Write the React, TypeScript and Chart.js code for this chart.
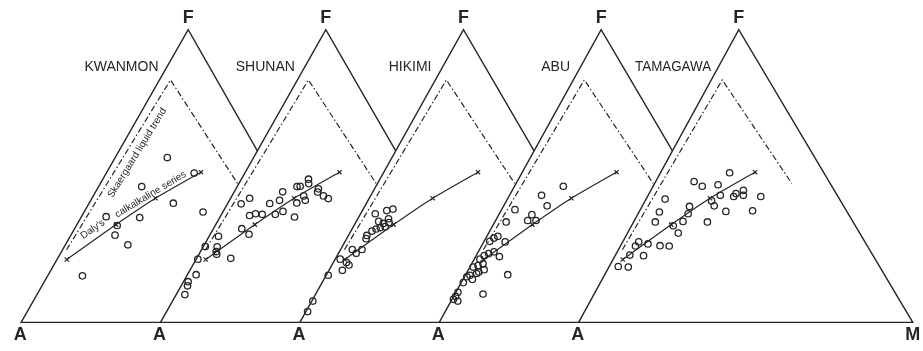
import { useEffect, useRef } from "react";
import { Chart, registerables } from "chart.js";

Chart.register(...registerables);

// AFM diagrams: F = FeO+Fe2O3, M = MgO, A = Na2O+K2O (A = 100 - F - M)
const localities = ["KWANMON", "SHUNAN", "HIKIMI", "ABU", "TAMAGAWA"];

const kwanmonF = [56.3, 46.4, 40.7, 37.7, 35.8, 36.1, 33.1, 29.8, 26.5, 15.9, 51.0];
const kwanmonM = [15.6, 12.9, 25.2, 35.6, 17.6, 7.4, 12.2, 13.2, 18.7, 10.4, 26.3];

const shunanF = [42.4, 40.5, 40.6, 44.6, 41.7, 36.5, 37.1, 36.9, 36.9, 37.9, 36.0, 40.8, 46.4, 46.5, 48.9, 47.4, 43.2, 41.7, 45.6, 44.5, 43.2, 42.3, 32.0, 30.1, 29.4, 25.8, 24.2, 23.3, 25.9, 21.9, 21.6, 16.3, 13.9, 12.5, 9.5];
const shunanM = [5.7, 4.1, 12.6, 14.5, 15.0, 8.6, 10.1, 12.2, 16.1, 17.9, 22.3, 20.6, 17.9, 18.8, 20.1, 20.9, 21.5, 22.7, 24.7, 25.0, 27.4, 29.3, 8.5, 11.6, 2.8, 4.2, 4.7, 5.3, 0.6, 10.2, 0.5, 2.6, 1.4, 1.9, 2.6];

const hikimiF = [37.1, 38.2, 38.7, 34.5, 35.4, 33.8, 34.1, 32.7, 32.4, 31.9, 31.2, 29.7, 28.6, 24.9, 23.6, 24.9, 21.6, 20.5, 19.6, 17.8, 16.1, 7.3, 3.7];
const hikimiM = [4.4, 7.3, 8.9, 6.7, 9.2, 8.4, 10.0, 9.5, 8.2, 7.2, 6.3, 5.5, 5.8, 6.4, 5.3, 3.5, 1.5, 3.9, 5.1, 4.0, 0.6, 0.3, 0.5];

const abuF = [46.5, 43.4, 39.8, 38.5, 36.8, 34.8, 34.8, 34.3, 29.4, 28.8, 27.7, 27.5, 24.1, 23.5, 22.8, 22.5, 21.6, 20.0, 19.4, 18.9, 18.0, 17.2, 16.7, 16.1, 15.6, 14.7, 13.6, 16.3, 10.3, 8.9, 7.9, 7.3, 9.7];
const abuM = [14.6, 9.6, 13.0, 4.0, 9.9, 9.6, 12.1, 3.4, 3.3, 2.4, 1.7, 6.4, 4.7, 3.4, 2.4, 7.1, 1.7, 3.4, 2.2, 1.0, 4.7, 3.5, 3.1, 1.4, 0.7, 2.8, 0.6, 12.6, 0.6, 0.6, 0.4, 2.0, 8.4];

const tamagawaF = [51.1, 48.1, 46.5, 47.0, 42.1, 43.4, 44.0, 43.0, 45.1, 43.4, 43.0, 41.5, 39.8, 39.6, 37.7, 37.1, 37.9, 38.1, 34.3, 34.5, 34.3, 33.0, 30.5, 27.5, 26.1, 26.8, 26.2, 26.1, 23.0, 22.8, 19.1, 18.9];
const tamagawaM = [20.7, 11.5, 14.7, 19.2, 5.7, 21.6, 26.0, 25.8, 27.7, 28.5, 33.9, 19.9, 21.5, 14.2, 6.1, 15.0, 25.9, 33.8, 6.5, 14.7, 22.1, 12.5, 15.2, 4.8, 4.5, 7.9, 11.8, 14.6, 4.3, 8.5, 2.7, 5.8];

// Daly's calc-alkaline series (tick points) and Skaergaard liquid trend
const dalyF = [21.5, 33.4, 42.4, 51.3];
const dalyM = [2.9, 11.7, 19.0, 28.2];
const skaerF = [24.8, 82.8, 47.5];
const skaerM = [1.2, 3.3, 41.0];

const sampleF = [kwanmonF, shunanF, hikimiF, abuF, tamagawaF];
const sampleM = [kwanmonM, shunanM, hikimiM, abuM, tamagawaM];

// Layout of the five overlapping triangles (x in canvas units, y in F %)
const baseLeft = [16, 157, 298, 439, 580];
const apexX = [185, 324.25, 463.5, 602.75, 742];
const BASE_WIDTH = 338;
const nameX = [117.5, 263, 409.5, 556.7, 675.5];
const INK = "#262626";
const FONT = "'Liberation Sans', Arial, sans-serif";

function ternX(i: number, f: number, m: number) {
  return baseLeft[i] + (m / 100) * BASE_WIDTH + (f / 100) * (apexX[i] - baseLeft[i]);
}

function toPoints(i: number, fs: number[], ms: number[]) {
  return fs.map((f, k) => ({ x: ternX(i, f, ms[k]), y: f }));
}

const framePlugin = {
  id: "afmFrames",
  beforeDatasetsDraw(chart: any) {
    const { ctx, scales } = chart;
    const x = scales.x;
    const y = scales.y;
    ctx.save();
    ctx.lineWidth = 1.4;
    ctx.strokeStyle = INK;
    ctx.fillStyle = "#ffffff";
    ctx.lineJoin = "miter";
    for (let i = 0; i < localities.length; i++) {
      const ax = x.getPixelForValue(ternX(i, 0, 0));
      const by = y.getPixelForValue(0);
      const fx = x.getPixelForValue(ternX(i, 100, 0));
      const fy = y.getPixelForValue(100);
      const mx = x.getPixelForValue(ternX(i, 0, 100));
      ctx.beginPath();
      ctx.moveTo(ax, by);
      ctx.lineTo(fx, fy);
      ctx.lineTo(mx, by);
      ctx.closePath();
      ctx.fill();
      ctx.stroke();
    }
    ctx.restore();
  },
};

function putText(
  ctx: CanvasRenderingContext2D,
  text: string,
  px: number,
  py: number,
  font: string,
  angle = 0,
  maxWidth?: number
) {
  ctx.save();
  ctx.translate(px, py);
  ctx.rotate((angle * Math.PI) / 180);
  ctx.font = font;
  ctx.textAlign = "center";
  ctx.textBaseline = "middle";
  if (maxWidth) ctx.fillText(text, 0, 0, maxWidth);
  else ctx.fillText(text, 0, 0);
  ctx.restore();
}

const textPlugin = {
  id: "afmText",
  afterDatasetsDraw(chart: any) {
    const { ctx, scales } = chart;
    const x = scales.x;
    const y = scales.y;
    ctx.save();
    ctx.fillStyle = INK;
    for (let i = 0; i < localities.length; i++) {
      putText(ctx, "F", x.getPixelForValue(apexX[i]), y.getPixelForValue(103.8), `bold 18px ${FONT}`);
      putText(ctx, "A", x.getPixelForValue(baseLeft[i] - 1), y.getPixelForValue(-4.3), `bold 18px ${FONT}`);
      putText(ctx, localities[i], x.getPixelForValue(nameX[i]), y.getPixelForValue(87.1), `14px ${FONT}`, 0, 76);
    }
    putText(ctx, "M", x.getPixelForValue(ternX(4, 0, 100)), y.getPixelForValue(-4.3), `bold 18px ${FONT}`);
    putText(ctx, "Daly's", x.getPixelForValue(88.5), y.getPixelForValue(31.8), `10px ${FONT}`, -35);
    putText(ctx, "calkalkaline series", x.getPixelForValue(147), y.getPixelForValue(43.7), `10px ${FONT}`, -31);
    putText(ctx, "Skaergaard liquid trend", x.getPixelForValue(133.5), y.getPixelForValue(57.9), `10px ${FONT}`, -58.5);
    ctx.restore();
  },
};

export default function App() {
  const ref = useRef<HTMLCanvasElement>(null);

  useEffect(() => {
    document.body.style.margin = "0";
    const datasets: any[] = [];
    for (let i = 0; i < localities.length; i++) {
      datasets.push({
        label: localities[i],
        data: toPoints(i, sampleF[i], sampleM[i]),
        pointStyle: "circle",
        pointRadius: 3.2,
        borderWidth: 1.3,
        borderColor: INK,
        backgroundColor: "rgba(255,255,255,0)",
        showLine: false,
      });
      datasets.push({
        label: "Daly " + localities[i],
        data: toPoints(i, dalyF, dalyM),
        showLine: true,
        tension: 0.2,
        borderColor: INK,
        borderWidth: 1.2,
        pointStyle: "crossRot",
        pointRadius: 3,
        pointBorderWidth: 1.2,
        pointBorderColor: INK,
      });
      datasets.push({
        label: "Skaergaard " + localities[i],
        data: toPoints(i, skaerF, skaerM),
        showLine: true,
        tension: 0,
        borderColor: INK,
        borderWidth: 1.2,
        borderDash: [6, 2.5, 1.5, 2.5],
        pointRadius: 0,
      });
    }

    const chart = new Chart(ref.current!, {
      type: "scatter",
      data: { datasets },
      options: {
        animation: false,
        responsive: false,
        devicePixelRatio: 1,
        layout: { padding: 0 },
        plugins: { legend: { display: false }, tooltip: { enabled: false } },
        scales: {
          x: { type: "linear", min: 0, max: 923, display: false },
          y: { type: "linear", min: -7.947, max: 108.278, display: false },
        },
      },
      plugins: [framePlugin, textPlugin],
    } as any);
    return () => chart.destroy();
  }, []);

  return (
    <div style={{ width: 923, height: 351, background: "#ffffff" }}>
      <canvas ref={ref} width={923} height={351} style={{ display: "block" }} />
    </div>
  );
}
